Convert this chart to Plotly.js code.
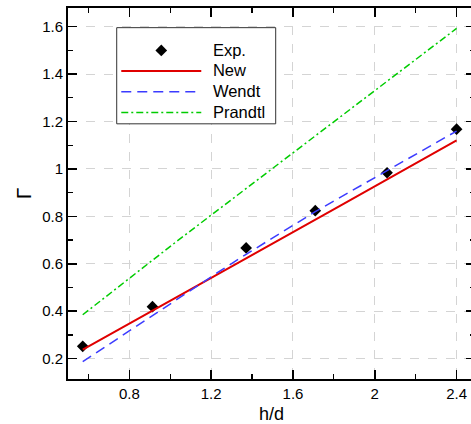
<!DOCTYPE html>
<html>
<head>
<meta charset="utf-8">
<script src="https://cdn.plot.ly/plotly-3.0.1.min.js"></script>
<style>
html, body { margin: 0; padding: 0; overflow: hidden; background: #fff; }
#chart { width: 477px; height: 424px; }
</style>
</head>
<body>
<div id="chart"></div>
<script>
// Experimental points
const expX = [0.572, 0.913, 1.371, 1.709, 2.060, 2.400];
const expY = [0.252, 0.419, 0.667, 0.824, 0.984, 1.168];
// New model
const newX = [0.572, 0.913, 1.244, 1.832, 2.400];
const newY = [0.238, 0.404, 0.562, 0.845, 1.121];
// Wendt
const wendtX = [0.572, 0.913, 1.244, 1.371, 1.709, 2.060, 2.400];
const wendtY = [0.187, 0.382, 0.570, 0.640, 0.820, 0.993, 1.160];
// Prandtl
const prandtlX = [0.572, 1.032, 2.400];
const prandtlY = [0.385, 0.695, 1.593];
// Legend labels
const seriesNames = ['Exp.', 'New', 'Wendt', 'Prandtl'];

const font = 'Liberation Sans, Arial, Helvetica, sans-serif';
const lbl = s => '<span style="font-size:16.5px">\u2009\u2009' + s + '</span>';

const traces = [
  { x: expX, y: expY, name: lbl(seriesNames[0]), type: 'scatter', mode: 'markers',
    marker: { symbol: 'diamond', size: 9, color: '#000000' } },
  { x: newX, y: newY, name: lbl(seriesNames[1]), type: 'scatter', mode: 'lines',
    line: { color: '#e00000', width: 2 } },
  { x: wendtX, y: wendtY, name: lbl(seriesNames[2]), type: 'scatter', mode: 'lines',
    line: { color: '#3b3bff', width: 1.5, dash: '10px,6px' } },
  { x: prandtlX, y: prandtlY, name: lbl(seriesNames[3]), type: 'scatter', mode: 'lines',
    line: { color: '#00cc00', width: 1.5, dash: '7px,3px,2px,3px' } }
];

const axisCommon = {
  showline: true, linecolor: '#000', linewidth: 2, mirror: 'ticks',
  ticks: 'inside', ticklen: 9, tickwidth: 1.5, tickcolor: '#000',
  showgrid: true, gridcolor: '#d4d4d4', griddash: 'dash', gridwidth: 1,
  zeroline: false,
  tickfont: { family: font, size: 15, color: '#000' }
};

const layout = {
  width: 477, height: 424,
  margin: { l: 68, r: 2, t: 8, b: 44.5 },
  paper_bgcolor: '#fff', plot_bgcolor: '#fff',
  showlegend: true,
  xaxis: Object.assign({}, axisCommon, {
    range: [0.5, 2.49], tick0: 0, dtick: 0.4,
    minor: { dtick: 0.2, tick0: 0, ticks: 'inside', ticklen: 5, tickwidth: 1.2, tickcolor: '#000', showgrid: false },
    title: { text: 'h/d', font: { family: font, size: 18, color: '#000' }, standoff: 12 }
  }),
  yaxis: Object.assign({}, axisCommon, {
    range: [0.114, 1.679], tick0: 0, dtick: 0.2,
    minor: { dtick: 0.1, tick0: 0, ticks: 'inside', ticklen: 5, tickwidth: 1.2, tickcolor: '#000', showgrid: false },
    title: { text: 'Γ', font: { family: font, size: 21, color: '#000' }, standoff: 5 }
  }),
  shapes: [{
    type: 'rect', xref: 'paper', yref: 'paper', layer: 'above',
    x0: 0.1197, x1: 0.5103, y0: 0.6878, y1: 0.947,
    fillcolor: '#ffffff', line: { color: '#333333', width: 1 }
  }],
  legend: {
    x: 0.1186, y: 0.927, xanchor: 'left', yanchor: 'top',
    bgcolor: 'rgba(0,0,0,0)', borderwidth: 0,
    itemwidth: 80,
    font: { family: font, size: 13.6, color: '#000' }
  }
};

Plotly.newPlot('chart', traces, layout, { displayModeBar: false, staticPlot: true });
</script>
</body>
</html>
